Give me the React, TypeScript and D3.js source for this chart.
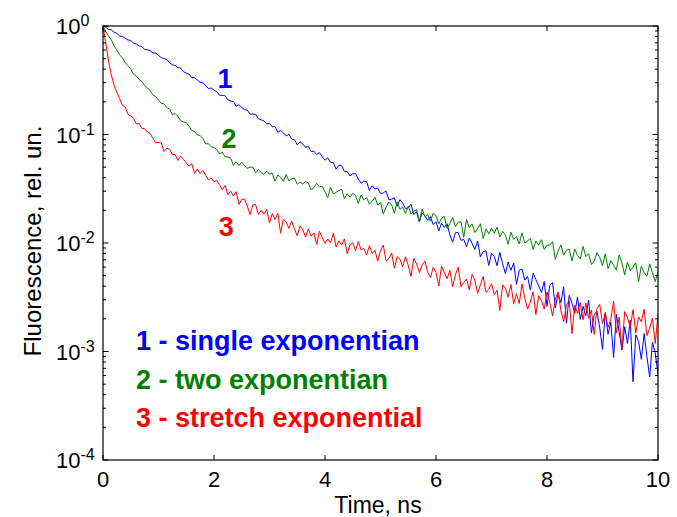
import React from 'react';
import * as d3 from 'd3';

// Sampling step of the decay curves (ns); each series starts at t = 0.
const TIME_STEP_NS = 0.05;

// log10(fluorescence, rel. un.), one value per TIME_STEP_NS.
const LOG_SINGLE = [
  0,
  -0.013, -0.032, -0.036, -0.058, -0.068, -0.092, -0.095, -0.113, -0.129, -0.132,
  -0.159, -0.166, -0.183, -0.190, -0.216, -0.219, -0.228, -0.248, -0.250, -0.271,
  -0.292, -0.300, -0.310, -0.338, -0.359, -0.363, -0.384, -0.387, -0.421, -0.434,
  -0.443, -0.476, -0.477, -0.496, -0.520, -0.523, -0.548, -0.577, -0.571, -0.592,
  -0.605, -0.638, -0.640, -0.643, -0.680, -0.691, -0.697, -0.739, -0.726, -0.750,
  -0.772, -0.775, -0.813, -0.811, -0.814, -0.856, -0.865, -0.875, -0.904, -0.897,
  -0.930, -0.927, -0.979, -0.962, -0.985, -1.013, -0.999, -1.041, -1.049, -1.096,
  -1.068, -1.088, -1.118, -1.110, -1.157, -1.154, -1.185, -1.167, -1.205, -1.237,
  -1.214, -1.259, -1.257, -1.320, -1.282, -1.287, -1.341, -1.340, -1.382, -1.361,
  -1.361, -1.412, -1.450, -1.429, -1.435, -1.516, -1.472, -1.503, -1.495, -1.544,
  -1.539, -1.520, -1.602, -1.596, -1.583, -1.662, -1.601, -1.632, -1.683, -1.675,
  -1.642, -1.738, -1.711, -1.806, -1.723, -1.751, -1.791, -1.757, -1.831, -1.803,
  -1.888, -1.819, -1.855, -1.822, -1.926, -1.993, -1.905, -1.904, -1.976, -1.967,
  -2.035, -1.954, -2.002, -2.061, -1.981, -2.128, -2.080, -2.071, -2.207, -2.094,
  -2.123, -2.210, -2.087, -2.190, -2.282, -2.176, -2.252, -2.184, -2.381, -2.252,
  -2.240, -2.343, -2.308, -2.434, -2.278, -2.337, -2.396, -2.455, -2.354, -2.584,
  -2.390, -2.365, -2.597, -2.468, -2.548, -2.403, -2.739, -2.482, -2.554, -2.649,
  -2.497, -2.704, -2.584, -2.671, -2.527, -2.830, -2.662, -2.629, -2.781, -2.980,
  -2.641, -2.840, -2.729, -3.055, -2.657, -2.821, -2.987, -2.772, -2.926, -2.711,
  -3.279, -2.845, -2.907, -3.072, -2.835, -3.046, -3.234, -2.915, -3.012, -3.211,
];

const LOG_TWO = [
  0,
  -0.051, -0.090, -0.127, -0.184, -0.221, -0.267, -0.294, -0.338, -0.367, -0.398,
  -0.444, -0.462, -0.493, -0.510, -0.549, -0.571, -0.597, -0.635, -0.650, -0.684,
  -0.712, -0.717, -0.752, -0.766, -0.818, -0.806, -0.833, -0.872, -0.885, -0.890,
  -0.922, -0.963, -0.973, -1.004, -1.009, -1.037, -1.087, -1.085, -1.114, -1.119,
  -1.138, -1.179, -1.163, -1.206, -1.207, -1.214, -1.284, -1.251, -1.287, -1.253,
  -1.290, -1.313, -1.301, -1.300, -1.353, -1.324, -1.349, -1.368, -1.338, -1.365,
  -1.356, -1.429, -1.373, -1.393, -1.433, -1.370, -1.428, -1.410, -1.401, -1.458,
  -1.437, -1.456, -1.433, -1.448, -1.510, -1.489, -1.449, -1.482, -1.477, -1.528,
  -1.581, -1.485, -1.547, -1.533, -1.518, -1.505, -1.592, -1.546, -1.577, -1.542,
  -1.561, -1.636, -1.557, -1.602, -1.580, -1.643, -1.614, -1.579, -1.650, -1.624,
  -1.734, -1.669, -1.623, -1.648, -1.726, -1.621, -1.689, -1.668, -1.728, -1.660,
  -1.732, -1.708, -1.692, -1.805, -1.687, -1.756, -1.738, -1.800, -1.723, -1.745,
  -1.824, -1.773, -1.755, -1.866, -1.818, -1.764, -1.850, -1.809, -1.802, -1.948,
  -1.782, -1.861, -1.824, -1.903, -1.863, -1.823, -1.959, -1.869, -1.915, -1.864,
  -1.911, -1.854, -1.945, -1.893, -1.925, -2.011, -1.901, -1.966, -1.943, -2.009,
  -1.906, -2.001, -1.982, -1.955, -2.059, -1.981, -2.021, -1.970, -2.060, -2.020,
  -2.020, -1.987, -2.151, -2.075, -2.017, -2.112, -2.065, -2.057, -2.167, -2.056,
  -2.116, -2.147, -2.031, -2.126, -2.099, -2.198, -2.166, -2.089, -2.134, -2.210,
  -2.099, -2.236, -2.163, -2.204, -2.250, -2.109, -2.184, -2.293, -2.175, -2.255,
  -2.222, -2.183, -2.355, -2.213, -2.272, -2.306, -2.193, -2.275, -2.355, -2.265,
];

const LOG_STRETCH = [
  0,
  -0.156, -0.322, -0.449, -0.549, -0.610, -0.668, -0.731, -0.747, -0.815, -0.829,
  -0.848, -0.903, -0.896, -0.943, -0.947, -0.977, -0.990, -1.037, -1.075, -1.074,
  -1.077, -1.156, -1.127, -1.137, -1.184, -1.185, -1.239, -1.200, -1.230, -1.262,
  -1.292, -1.270, -1.358, -1.318, -1.359, -1.331, -1.378, -1.420, -1.399, -1.435,
  -1.424, -1.462, -1.508, -1.469, -1.554, -1.523, -1.566, -1.527, -1.644, -1.597,
  -1.596, -1.660, -1.738, -1.648, -1.647, -1.737, -1.700, -1.734, -1.691, -1.815,
  -1.729, -1.784, -1.725, -1.910, -1.781, -1.807, -1.865, -1.797, -1.869, -1.935,
  -1.842, -1.878, -1.945, -1.869, -1.937, -1.907, -2.013, -1.893, -1.947, -2.003,
  -1.963, -1.998, -1.909, -2.036, -1.980, -2.019, -1.962, -2.098, -2.019, -1.998,
  -2.071, -1.986, -2.063, -2.051, -2.110, -2.025, -2.097, -2.067, -2.167, -2.069,
  -2.019, -2.165, -2.145, -2.092, -2.233, -2.125, -2.149, -2.218, -2.127, -2.207,
  -2.308, -2.140, -2.192, -2.272, -2.202, -2.166, -2.268, -2.320, -2.223, -2.270,
  -2.397, -2.213, -2.274, -2.328, -2.251, -2.404, -2.293, -2.222, -2.401, -2.363,
  -2.332, -2.432, -2.288, -2.342, -2.463, -2.385, -2.307, -2.454, -2.429, -2.377,
  -2.476, -2.435, -2.622, -2.386, -2.416, -2.500, -2.382, -2.560, -2.466, -2.557,
  -2.377, -2.508, -2.609, -2.544, -2.450, -2.659, -2.486, -2.531, -2.609, -2.451,
  -2.549, -2.672, -2.517, -2.451, -2.620, -2.725, -2.570, -2.531, -2.835, -2.571,
  -2.650, -2.548, -2.708, -2.552, -2.694, -2.619, -2.842, -2.605, -2.567, -2.744,
  -2.644, -2.778, -2.702, -2.536, -2.830, -2.684, -2.978, -2.632, -2.686, -2.780,
  -2.614, -2.828, -2.682, -2.726, -2.610, -2.854, -2.788, -2.692, -2.926, -2.660,
];

const X_DOMAIN = [0, 10];
const Y_DOMAIN = [1e-4, 1];
const X_TICKS = [0, 2, 4, 6, 8, 10];
const CURVE_NAMES = ['1', '2', '3'];
const CURVE_COLORS = ['#0000ff', '#008000', '#ff0000'];
// label anchors in data coordinates (time, fluorescence)
const LABEL_T = [2.2, 2.27, 2.22];
const LABEL_V = [0.27, 0.0751, 0.0116];
const LEGEND_TEXT = ['1 - single exponentian', '2 - two exponentian', '3 - stretch exponential'];

const W = 677;
const H = 517;
const PLOT = { left: 103, right: 658, top: 26, bottom: 460 };
const FONT = "'Liberation Sans', Arial, Helvetica, sans-serif";

export default function App() {
  const x = d3.scaleLinear().domain(X_DOMAIN).range([PLOT.left, PLOT.right]);
  const y = d3.scaleLog().domain(Y_DOMAIN).range([PLOT.bottom, PLOT.top]);

  const series = [LOG_SINGLE, LOG_TWO, LOG_STRETCH].map((logs) =>
    logs.map((l, i) => ({ t: i * TIME_STEP_NS, v: Math.pow(10, l) }))
  );

  const line = d3
    .line<{ t: number; v: number }>()
    .x((d) => x(d.t))
    .y((d) => y(d.v));

  const yTicks = y.ticks();
  const isMajor = (v: number) => Math.abs(Math.log10(v) - Math.round(Math.log10(v))) < 1e-9;

  return (
    <svg
      width={W}
      height={H}
      style={{ position: 'absolute', left: 0, top: 0, background: '#fff' }}
      fontFamily={FONT}
    >
      <rect x={0} y={0} width={W} height={H} fill="#fff" />
      <defs>
        <clipPath id="plotclip">
          <rect x={PLOT.left} y={PLOT.top} width={PLOT.right - PLOT.left} height={PLOT.bottom - PLOT.top} />
        </clipPath>
      </defs>

      {/* curves */}
      <g clipPath="url(#plotclip)">
        {series.map((s, i) => (
          <path key={i} d={line(s) || ''} fill="none" stroke={CURVE_COLORS[i]} strokeWidth={1} strokeLinejoin="round" />
        ))}
      </g>

      {/* frame */}
      <rect
        x={PLOT.left}
        y={PLOT.top}
        width={PLOT.right - PLOT.left}
        height={PLOT.bottom - PLOT.top}
        fill="none"
        stroke="#000"
        strokeWidth={1.2}
      />

      {/* x ticks */}
      {X_TICKS.map((t) => (
        <g key={'xt' + t}>
          <line x1={x(t)} x2={x(t)} y1={PLOT.bottom} y2={PLOT.bottom - 5} stroke="#000" strokeWidth={1} />
          <line x1={x(t)} x2={x(t)} y1={PLOT.top} y2={PLOT.top + 5} stroke="#000" strokeWidth={1} />
          <text x={x(t)} y={487} fontSize={22} textAnchor="middle" fill="#000">
            {t}
          </text>
        </g>
      ))}

      {/* y ticks */}
      {yTicks.map((v, i) => {
        const major = isMajor(v);
        const len = major ? 5.5 : 3;
        return (
          <g key={'yt' + i}>
            <line x1={PLOT.left} x2={PLOT.left + len} y1={y(v)} y2={y(v)} stroke="#000" strokeWidth={1} />
            <line x1={PLOT.right} x2={PLOT.right - len} y1={y(v)} y2={y(v)} stroke="#000" strokeWidth={1} />
            {major && (
              <text x={56} y={y(v) + 8} fontSize={22} fill="#000">
                10
                <tspan fontSize={16} dy={-8}>
                  {String(Math.round(Math.log10(v)))}
                </tspan>
              </text>
            )}
          </g>
        );
      })}

      {/* axis labels */}
      <text x={378} y={513} fontSize={23} textAnchor="middle" fill="#000">
        Time, ns
      </text>
      <text transform="translate(41,241) rotate(-90)" fontSize={24} textAnchor="middle" fill="#000">
        Fluorescence, rel. un.
      </text>

      {/* curve numbers */}
      {CURVE_NAMES.map((n, i) => (
        <text
          key={'cn' + i}
          x={x(LABEL_T[i])}
          y={y(LABEL_V[i])}
          fontSize={27}
          fontWeight="bold"
          textAnchor="middle"
          fill={CURVE_COLORS[i]}
        >
          {n}
        </text>
      ))}

      {/* legend text */}
      {LEGEND_TEXT.map((s, i) => (
        <text key={'lg' + i} x={136} y={350 + i * 38.5} fontSize={27} fontWeight="bold" fill={CURVE_COLORS[i]}>
          {s}
        </text>
      ))}
    </svg>
  );
}
